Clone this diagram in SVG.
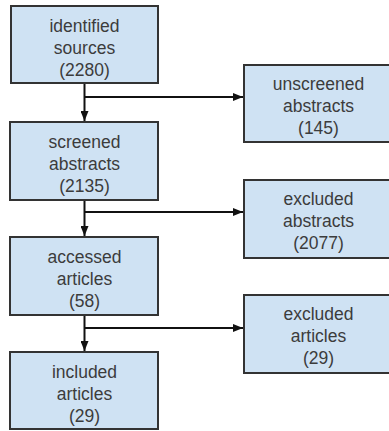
<svg xmlns="http://www.w3.org/2000/svg" width="389" height="431" viewBox="0 0 389 431">
<style>
.box{fill:#cfe2f3;stroke:#333;stroke-width:2}
.t{font-family:"Liberation Sans",Arial,sans-serif;font-size:17.5px;fill:#3c3c3c;text-anchor:middle}
.c{stroke:#111;stroke-width:2;fill:none}
</style>
<defs>
<marker id="ah" markerWidth="10" markerHeight="8" refX="10" refY="4" orient="auto" markerUnits="userSpaceOnUse">
<path d="M0,0 L10,4 L0,8 Z" fill="#111"/>
</marker>
</defs>
<rect width="389" height="431" fill="#fff"/>
<g id="connectors">
<line class="c" x1="84.5" y1="83" x2="84.5" y2="121" marker-end="url(#ah)"/>
<line class="c" x1="84.5" y1="97" x2="243" y2="97" marker-end="url(#ah)"/>
<line class="c" x1="84.5" y1="200" x2="84.5" y2="236" marker-end="url(#ah)"/>
<line class="c" x1="84.5" y1="212" x2="243" y2="212" marker-end="url(#ah)"/>
<line class="c" x1="84.5" y1="315" x2="84.5" y2="351" marker-end="url(#ah)"/>
<line class="c" x1="84.5" y1="328" x2="243" y2="328" marker-end="url(#ah)"/>
</g>
<g id="identified">
<rect class="box" x="11" y="6" width="147" height="77"/>
<text class="t" x="84.5" y="32">identified</text>
<text class="t" x="84.5" y="54">sources</text>
<text class="t" x="84.5" y="76">(2280)</text>
</g>
<g id="screened">
<rect class="box" x="10" y="122" width="148" height="78"/>
<text class="t" x="84.5" y="148">screened</text>
<text class="t" x="84.5" y="170">abstracts</text>
<text class="t" x="84.5" y="192">(2135)</text>
</g>
<g id="accessed">
<rect class="box" x="10" y="237" width="148" height="78"/>
<text class="t" x="84.5" y="263">accessed</text>
<text class="t" x="84.5" y="285">articles</text>
<text class="t" x="84.5" y="307">(58)</text>
</g>
<g id="included">
<rect class="box" x="10" y="352" width="148" height="77"/>
<text class="t" x="84.5" y="378">included</text>
<text class="t" x="84.5" y="400">articles</text>
<text class="t" x="84.5" y="422">(29)</text>
</g>
<g id="unscreened">
<rect class="box" x="244" y="65" width="150" height="77"/>
<text class="t" x="318.5" y="90">unscreened</text>
<text class="t" x="318.5" y="112">abstracts</text>
<text class="t" x="318.5" y="134">(145)</text>
</g>
<g id="excluded-abstracts">
<rect class="box" x="244" y="180" width="150" height="78"/>
<text class="t" x="318.5" y="205">excluded</text>
<text class="t" x="318.5" y="227">abstracts</text>
<text class="t" x="318.5" y="249">(2077)</text>
</g>
<g id="excluded-articles">
<rect class="box" x="244" y="295" width="150" height="78"/>
<text class="t" x="318.5" y="320">excluded</text>
<text class="t" x="318.5" y="342">articles</text>
<text class="t" x="318.5" y="364">(29)</text>
</g>
</svg>
